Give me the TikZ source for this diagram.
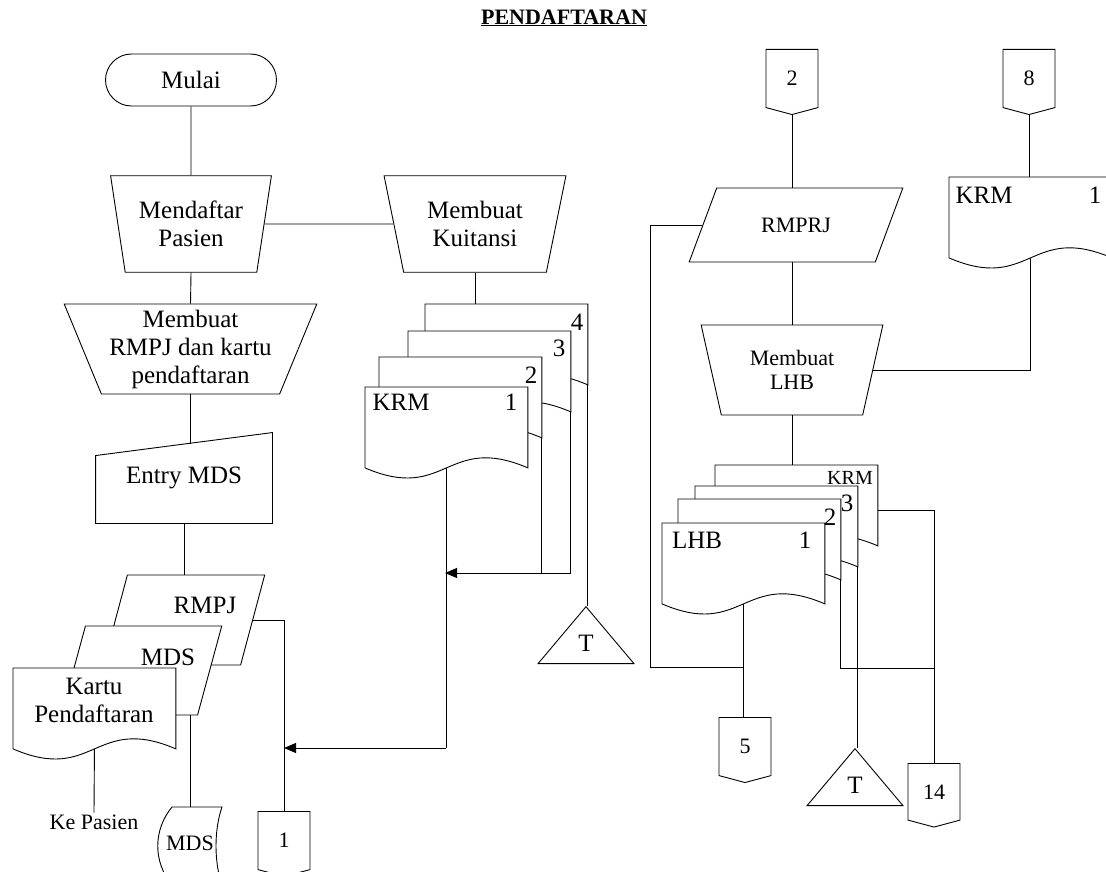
\documentclass[tikz,border=0pt]{standalone}
\usepackage{fontspec}
\setmainfont{Liberation Serif}
\usetikzlibrary{arrows.meta,positioning,calc,shapes.geometric,shapes.misc,shapes.symbols}
\tikzset{
  >={Triangle[length=12pt,width=10pt]},
  lbl/.style    ={font=\fontsize{25}{28}\selectfont,inner sep=1.5pt,align=center},
  lblsm/.style  ={font=\fontsize{22}{24}\selectfont,inner sep=1.5pt,align=center},
  term/.style   ={draw,rounded rectangle,minimum width=174pt,minimum height=52pt},
  manop/.style  ={draw,trapezium,shape border rotate=180,trapezium stretches=true,
                  inner sep=0pt},
  para/.style   ={draw,fill=white,trapezium,trapezium stretches=true,inner sep=1pt},
  doc/.style    ={rectangle,minimum width=162pt,minimum height=80pt,inner sep=0pt,
                  anchor=north west},
  offpage/.style={draw,signal,signal to=south,signal pointer angle=150,
                  minimum width=52pt,minimum height=60pt,inner sep=0pt},
  merge/.style  ={draw,isosceles triangle,isosceles triangle apex angle=81,
                  shape border rotate=90,isosceles triangle stretches,
                  minimum width=96pt,minimum height=57pt,inner sep=0pt},
  flow/.style   ={draw},
  arr/.style    ={->,draw},
}
\newcommand{\docpath}[1]{%
  \draw[fill=white] (#1.south west) -- (#1.north west) -- (#1.north east)
    -- (#1.south east) .. controls ($(#1.south)+(0,-35)$) and ($(#1.south)+(0,35)$)
    .. (#1.south west) -- cycle;}
\begin{document}
\begin{tikzpicture}[x=1pt,y=-1pt,line width=0.9pt]
\useasboundingbox (0,0) rectangle (1106,872);
\clip (0,0) rectangle (1106,872);
\node[font=\fontsize{22}{24}\selectfont\bfseries] (title) at (564,18) {\underline{PENDAFTARAN}};
% kolom kiri
\node[term,lbl] (mulai) at (191,80) {Mulai};
\node[manop,lbl,trapezium left angle=76.3,trapezium right angle=76.3,
      minimum width=161pt,minimum height=96.5pt] (daftar) at (191,224) {Mendaftar\\Pasien};
\node[manop,lbl,trapezium left angle=74.4,trapezium right angle=74.4,
      minimum width=182pt,minimum height=96.5pt] (kuit) at (475,224) {Membuat\\Kuitansi};
\node[manop,lbl,trapezium left angle=67.1,trapezium right angle=67.1,
      minimum width=253pt,minimum height=90pt] (mrmpj) at (190.5,349)
      {Membuat\\RMPJ dan kartu\\pendaftaran};
\node[lbl,minimum width=176pt,minimum height=90pt,inner sep=0pt] (entry) at (184,478) {Entry MDS};
\draw (entry.south west) -- (entry.south east) -- (entry.north east)
      -- ([yshift=-23pt]entry.north west) -- cycle;
\coordinate (entrytop) at ($(entry.north east)!0.5!([yshift=-23pt]entry.north west)$);
\node[para,lbl,trapezium left angle=74.5,trapezium right angle=105.5,
      minimum width=162pt,minimum height=90pt] (pj) at (184,620) {\phantom{M}};
\node[para,lbl,trapezium left angle=74.3,trapezium right angle=105.7,
      minimum width=161pt,minimum height=89pt] (mds) at (141.5,670.5) {\phantom{M}};
\node[doc] (kartu) at (13,668) {};
\docpath{kartu}
\node[lbl] (pjtx) at (205,605) {RMPJ};
\node[lbl] (mdstx) at (168,657) {MDS};
\node[lbl] (kartutx) at (94,700) {Kartu\\Pendaftaran};
\node[lblsm] (kepasien) at (94,822) {Ke Pasien};
\node[lblsm] (mdsdb) at (190,843) {MDS};
\coordinate (mdsdbtop) at (190,807);
\draw (172,807) -- (222,807) .. controls (214,830) and (214,862) .. (222,885);
\draw (172,807) .. controls (153,830) and (153,862) .. (172,885);
\node[offpage,lblsm,anchor=north] (c1) at (284,811) {1};
% tumpukan KRM
\node[doc] (k4) at (425,304) {};
\node[doc] (k3) at (408,331) {};
\node[doc] (k2) at (379,357) {};
\node[doc] (k1) at (365,387) {};
\docpath{k4}
\docpath{k3}
\docpath{k2}
\docpath{k1}
\node[lbl] (k4n) at (577,322) {4};
\node[lbl] (k3n) at (559,348) {3};
\node[lbl] (k2n) at (531,375) {2};
\node[lbl] (k1a) at (401,402) {KRM};
\node[lbl] (k1n) at (511,402) {1};
\node[merge,lbl,anchor=apex] (t1) at (586,606) {T};
% kolom kanan
\node[offpage,lblsm,anchor=north] (c2) at (792,49) {2};
\node[offpage,lblsm,anchor=north] (c8) at (1029,49) {8};
\node[para,lblsm,trapezium left angle=54.4,trapezium right angle=125.6,
      minimum width=214pt,minimum height=74pt] (rmprj) at (796,225) {RMPRJ};
\node[doc] (krm8) at (949,177) {};
\docpath{krm8}
\node[lbl] (krm8a) at (984,195) {KRM};
\node[lbl] (krm8n) at (1095,195) {1};
\node[manop,lblsm,trapezium left angle=73.6,trapezium right angle=73.6,
      minimum width=182pt,minimum height=90pt] (mlhb) at (792,370) {Membuat\\LHB};
\node[doc] (l4) at (715,465) {};
\node[doc] (l3) at (695,486) {};
\node[doc] (l2) at (678,499) {};
\node[doc] (l1) at (662,523) {};
\docpath{l4}
\docpath{l3}
\docpath{l2}
\docpath{l1}
\node[font=\fontsize{20}{22}\selectfont,inner sep=1pt] (l4a) at (850,478) {KRM};
\node[lbl] (l3n) at (847,503) {3};
\node[lbl] (l2n) at (830,517) {2};
\node[lbl] (l1a) at (697,540) {LHB};
\node[lbl] (l1n) at (805,540) {1};
\node[offpage,lblsm,anchor=north] (c5) at (745,717) {5};
\node[merge,lbl,anchor=apex] (t2) at (855,748) {T};
\node[offpage,lblsm,anchor=north] (c14) at (934,763) {14};
% garis
\draw[flow] (mulai.south) -- (daftar.north);
\draw[flow] (daftar.east) -- (kuit.west);
\draw[flow] (daftar.south) -- (mrmpj.north);
\draw[flow] (mrmpj.south) -- (mrmpj.south |- entrytop);
\draw[flow] (entry.south) -- (entry.south |- pj.north);
\draw[flow] (pj.east) -| (c1.north);
\draw[flow] (kartu.south) -- (kepasien.north);
\draw[flow] (mdsdbtop |- mds.south) -- (mdsdbtop);
\draw[flow] (kuit.south) -- (kuit.south |- k4.north);
\coordinate (j1) at (445,748);
\coordinate (j2) at (445,573);
\draw[flow] (k1.south) -- (k1.south |- j1);
\draw[arr] (k1.south |- j1) -- (c1.north |- j1);
\draw[arr] (k3.south east) |- (j2);
\draw[flow] (k2.south east) -- (k2.south east |- j2);
\draw[flow] (k4.south east) -- (k4.south east |- t1.apex);
\draw[flow] (c2.south) -- (c2.south |- rmprj.north);
\draw[flow] (mlhb.north |- rmprj.south) -- (mlhb.north);
\coordinate (j3) at (650,667);
\coordinate (j4) at (934,668);
\draw[flow] (rmprj.west) -| (j3) -- (j3 -| l1.south);
\draw[flow] (l1.south) -- (l1.south |- c5.north);
\draw[flow] (c8.south) -- (c8.south |- krm8.north);
\draw[flow] (mlhb.east) -| (krm8.south);
\draw[flow] (mlhb.south) -- (mlhb.south |- l4.north);
\draw[flow] (l2.south east) |- (j4);
\draw[flow] (l3.south east) -- (l3.south east |- t2.apex);
\draw[flow] ([yshift=-5pt]l4.east) -| (c14.north);
\end{tikzpicture}
\end{document}
